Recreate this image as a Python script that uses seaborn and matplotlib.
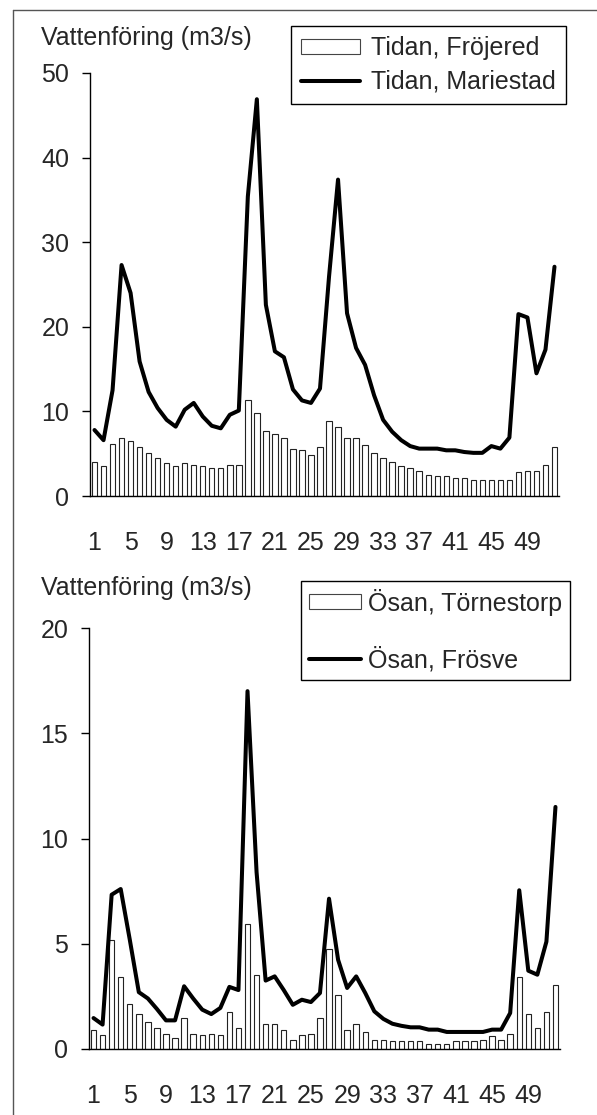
import numpy as np
import pandas as pd
import seaborn as sns
import matplotlib
matplotlib.use("Agg")
import matplotlib.pyplot as plt
from matplotlib.patches import Patch
from matplotlib.lines import Line2D

# ---------------- data ----------------
weeks = list(range(1, 53))
tick_labels = ["1", "5", "9", "13", "17", "21", "25", "29", "33", "37", "41", "45", "49"]

tidan_frojered = [4.0, 3.5, 6.1, 6.8, 6.5, 5.8, 5.1, 4.5, 3.9, 3.5,
                  3.9, 3.7, 3.5, 3.3, 3.3, 3.7, 3.7, 11.4, 9.8, 7.7,
                  7.3, 6.8, 5.6, 5.4, 4.9, 5.8, 8.9, 8.1, 6.9, 6.8,
                  6.0, 5.1, 4.5, 4.0, 3.5, 3.3, 3.0, 2.5, 2.4, 2.4,
                  2.1, 2.1, 1.9, 1.9, 1.9, 1.9, 1.9, 2.8, 3.0, 3.0,
                  3.7, 5.8]
tidan_mariestad = [7.8, 6.6, 12.5, 27.3, 24.0, 15.9, 12.3, 10.4, 9.0, 8.2,
                   10.2, 11.0, 9.4, 8.3, 8.0, 9.6, 10.1, 35.4, 46.9, 22.6,
                   17.1, 16.4, 12.6, 11.3, 11.0, 12.7, 25.9, 37.4, 21.6, 17.5,
                   15.5, 11.9, 9.0, 7.6, 6.6, 5.9, 5.6, 5.6, 5.6, 5.4,
                   5.4, 5.2, 5.1, 5.1, 5.9, 5.6, 6.9, 21.5, 21.1, 14.5,
                   17.3, 27.1]
osan_tornestorp = [0.89, 0.65, 5.2, 3.42, 2.14, 1.66, 1.28, 1.0, 0.73, 0.52,
                   1.47, 0.73, 0.65, 0.73, 0.65, 1.74, 1.0, 5.95, 3.5, 1.19,
                   1.19, 0.89, 0.41, 0.65, 0.73, 1.47, 4.75, 2.58, 0.89, 1.19,
                   0.81, 0.44, 0.44, 0.36, 0.36, 0.36, 0.36, 0.25, 0.25, 0.25,
                   0.36, 0.36, 0.36, 0.44, 0.63, 0.44, 0.73, 3.42, 1.66, 1.0,
                   1.74, 3.06]
osan_frosve = [1.47, 1.16, 7.33, 7.6, 5.2, 2.7, 2.4, 1.9, 1.36, 1.36,
               2.98, 2.4, 1.87, 1.66, 1.95, 2.95, 2.8, 17.0, 8.4, 3.25,
               3.45, 2.8, 2.1, 2.34, 2.23, 2.66, 7.14, 4.24, 2.9, 3.45,
               2.66, 1.79, 1.43, 1.2, 1.1, 1.03, 1.03, 0.92, 0.92, 0.81,
               0.81, 0.81, 0.81, 0.81, 0.92, 0.92, 1.71, 7.54, 3.72, 3.53,
               5.1, 11.5]

ylabel = "Vattenföring (m3/s)"

# ---------------- style ----------------
sns.set_theme(style="white")
plt.rcParams['font.family'] = ['Liberation Sans', 'DejaVu Sans']
FS = 18

W, H = 597, 1115
fig = plt.figure(figsize=(W / 100, H / 100), dpi=100)

def fx(px):
    return px / W

def fy(py):
    return 1 - py / H

ax1 = fig.add_axes([fx(90), fy(496), (559 - 90) / W, (496 - 73) / H])
ax2 = fig.add_axes([fx(89), fy(1049), (560 - 89) / W, (1049 - 628) / H])

def panel(ax, bars, line, ymax, ystep):
    df = pd.DataFrame({"week": [str(w) for w in weeks], "bars": bars, "line": line})
    sns.barplot(data=df, x="week", y="bars", ax=ax, color="white",
                edgecolor="#222222", linewidth=0.8, width=0.6, saturation=1)
    sns.lineplot(x=np.arange(len(weeks)), y=df["line"].values, ax=ax,
                 color="black", linewidth=2.9, zorder=5)
    ax.set_xlim(-0.5, len(weeks) - 0.5)
    ax.set_ylim(0, ymax)
    yt = np.arange(0, ymax + 0.1, ystep)
    ax.set_yticks(yt)
    ax.set_yticklabels([f"{int(v)}" for v in yt])
    ax.set_xticks([weeks.index(int(t)) for t in tick_labels])
    ax.set_xticklabels(tick_labels)
    ax.set_xlabel("")
    ax.set_ylabel("")
    for s in ["top", "right"]:
        ax.spines[s].set_visible(False)
    for s in ["left", "bottom"]:
        ax.spines[s].set_color("black")
        ax.spines[s].set_linewidth(1.0)
    ax.tick_params(axis="y", direction="out", length=6, width=1.0, color="black",
                   labelsize=FS, pad=9, left=True)
    ax.tick_params(axis="x", length=0, labelsize=FS, pad=25, bottom=True)
    ax.set_facecolor("white")
    handles = [Patch(facecolor="white", edgecolor="#444444", linewidth=0.8),
               Line2D([0], [0], color="black", linewidth=2.9)]
    return handles

h1 = panel(ax1, tidan_frojered, tidan_mariestad, 50, 10)
h2 = panel(ax2, osan_tornestorp, osan_frosve, 20, 5)

leg1 = fig.legend(h1, ["Tidan, Fröjered", "Tidan, Mariestad"], loc="upper left",
                  bbox_to_anchor=(fx(291), fy(26)), bbox_transform=fig.transFigure,
                  fontsize=FS, frameon=True, fancybox=False, framealpha=1,
                  edgecolor="black", borderpad=0.4, labelspacing=0.4,
                  handlelength=2.35, handleheight=0.55, handletextpad=0.45,
                  borderaxespad=0)
leg1.get_frame().set_linewidth(1.0)

leg2 = fig.legend(h2, ["Ösan, Törnestorp", "Ösan, Frösve"], loc="upper left",
                  bbox_to_anchor=(fx(301), fy(581)), bbox_transform=fig.transFigure,
                  fontsize=FS, frameon=True, fancybox=False, framealpha=1,
                  edgecolor="black", borderpad=0.3, labelspacing=1.25,
                  handlelength=2.1, handleheight=0.55, handletextpad=0.3,
                  borderaxespad=0)
leg2.get_frame().set_linewidth(1.0)

fig.text(fx(41), fy(45), ylabel, fontsize=FS, ha="left", va="baseline")
fig.text(fx(41), fy(595), ylabel, fontsize=FS, ha="left", va="baseline")

# outer frame (left and top edges)
fig.add_artist(Line2D([fx(13), fx(13)], [0, fy(9.5)], color="#555555", linewidth=1.0,
                      transform=fig.transFigure))
fig.add_artist(Line2D([fx(13), 1], [fy(9.5), fy(9.5)], color="#555555", linewidth=1.0,
                      transform=fig.transFigure))

fig.savefig("out.png", dpi=100, facecolor="white")
